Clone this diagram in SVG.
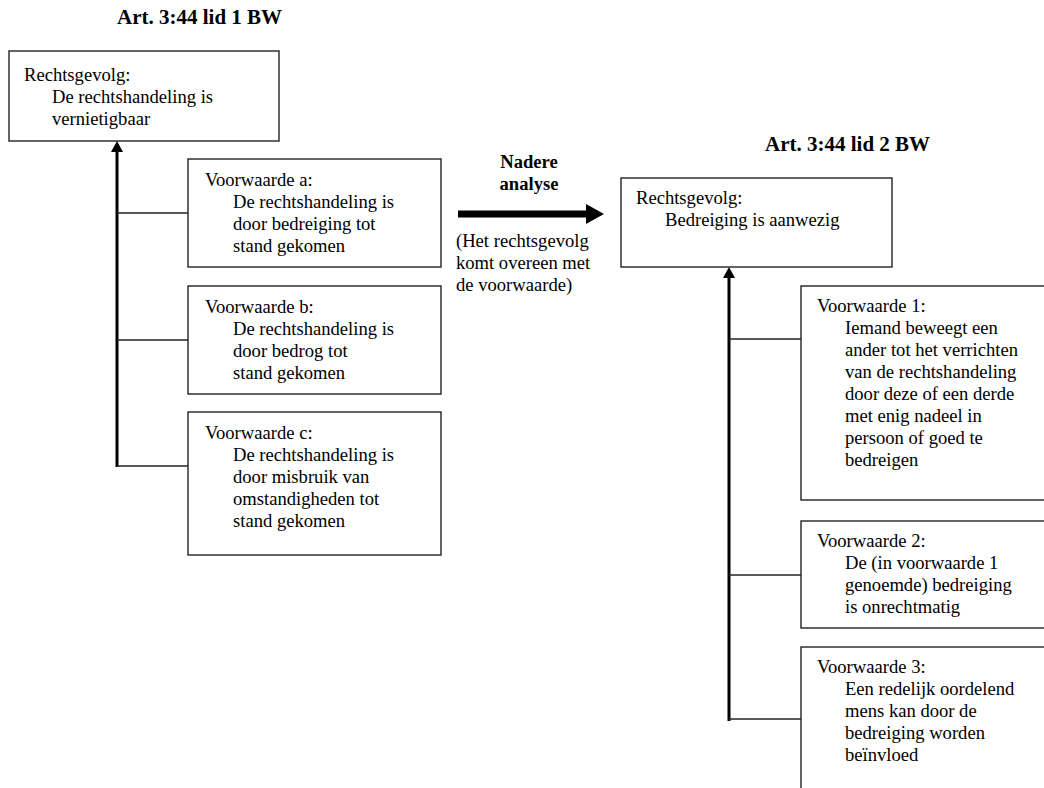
<svg xmlns="http://www.w3.org/2000/svg" width="1044" height="788" viewBox="0 0 1044 788">
<style>
  text { font-family: "Liberation Serif", "Times New Roman", serif; fill: #000; }
  .t { font-size: 18.6px; }
  .h { font-size: 21px; font-weight: bold; }
  .b { font-size: 18.6px; font-weight: bold; }
  .box { fill: #fff; stroke: #222; stroke-width: 1.4; }
  .con { stroke: #222; stroke-width: 1.5; fill: none; }
  .spine { stroke: #000; stroke-width: 3; fill: none; }
  .head { fill: #000; }
</style>
<rect width="1044" height="788" fill="#fff"/>

<text class="h" x="117" y="24">Art. 3:44 lid 1 BW</text>
<text class="h" x="765" y="151">Art. 3:44 lid 2 BW</text>

<g id="connectors">
  <line class="spine" x1="117" y1="467" x2="117" y2="151"/>
  <path class="head" d="M111,152 L117,141 L123,152 Z"/>
  <line class="con" x1="117" y1="213" x2="188" y2="213"/>
  <line class="con" x1="117" y1="340" x2="188" y2="340"/>
  <line class="con" x1="117" y1="466" x2="188" y2="466"/>
  <line class="spine" x1="729" y1="721" x2="729" y2="277"/>
  <path class="head" d="M723,278 L729,267 L735,278 Z"/>
  <line class="con" x1="729" y1="339" x2="801" y2="339"/>
  <line class="con" x1="729" y1="575" x2="801" y2="575"/>
  <line class="con" x1="729" y1="719" x2="801" y2="719"/>
  <path class="head" d="M458,210.5 L586,210.5 L586,204 L604,214 L586,224 L586,217.5 L458,217.5 Z"/>
</g>

<g id="mid-label">
  <text class="b" x="529" y="168" text-anchor="middle">Nadere</text>
  <text class="b" x="529" y="190" text-anchor="middle">analyse</text>
  <text class="t" x="456" y="247">(Het rechtsgevolg</text>
  <text class="t" x="456" y="269">komt overeen met</text>
  <text class="t" x="456" y="291">de voorwaarde)</text>
</g>

<g id="rechtsgevolg1">
  <rect class="box" x="9" y="51" width="270" height="90"/>
  <text class="t" x="24" y="81">Rechtsgevolg:</text>
  <text class="t" x="52" y="103">De rechtshandeling is</text>
  <text class="t" x="52" y="125">vernietigbaar</text>
</g>

<g id="voorwaarde-a">
  <rect class="box" x="188" y="159" width="253" height="108"/>
  <text class="t" x="205" y="186">Voorwaarde a:</text>
  <text class="t" x="233" y="208">De rechtshandeling is</text>
  <text class="t" x="233" y="230">door bedreiging tot</text>
  <text class="t" x="233" y="252">stand gekomen</text>
</g>

<g id="voorwaarde-b">
  <rect class="box" x="188" y="286" width="253" height="108"/>
  <text class="t" x="205" y="313">Voorwaarde b:</text>
  <text class="t" x="233" y="335">De rechtshandeling is</text>
  <text class="t" x="233" y="357">door bedrog tot</text>
  <text class="t" x="233" y="379">stand gekomen</text>
</g>

<g id="voorwaarde-c">
  <rect class="box" x="188" y="412" width="253" height="143"/>
  <text class="t" x="205" y="439">Voorwaarde c:</text>
  <text class="t" x="233" y="461">De rechtshandeling is</text>
  <text class="t" x="233" y="483">door misbruik van</text>
  <text class="t" x="233" y="505">omstandigheden tot</text>
  <text class="t" x="233" y="527">stand gekomen</text>
</g>

<g id="rechtsgevolg2">
  <rect class="box" x="621" y="178" width="271" height="89"/>
  <text class="t" x="636" y="204">Rechtsgevolg:</text>
  <text class="t" x="665" y="226">Bedreiging is aanwezig</text>
</g>

<g id="voorwaarde-1">
  <rect class="box" x="801" y="286" width="300" height="214"/>
  <text class="t" x="817" y="312">Voorwaarde 1:</text>
  <text class="t" x="845" y="334">Iemand beweegt een</text>
  <text class="t" x="845" y="356">ander tot het verrichten</text>
  <text class="t" x="845" y="378">van de rechtshandeling</text>
  <text class="t" x="845" y="400">door deze of een derde</text>
  <text class="t" x="845" y="422">met enig nadeel in</text>
  <text class="t" x="845" y="444">persoon of goed te</text>
  <text class="t" x="845" y="466">bedreigen</text>
</g>

<g id="voorwaarde-2">
  <rect class="box" x="801" y="521" width="300" height="107"/>
  <text class="t" x="817" y="547">Voorwaarde 2:</text>
  <text class="t" x="845" y="569">De (in voorwaarde 1</text>
  <text class="t" x="845" y="591">genoemde) bedreiging</text>
  <text class="t" x="845" y="613">is onrechtmatig</text>
</g>

<g id="voorwaarde-3">
  <rect class="box" x="801" y="647" width="300" height="200"/>
  <text class="t" x="817" y="673">Voorwaarde 3:</text>
  <text class="t" x="845" y="695">Een redelijk oordelend</text>
  <text class="t" x="845" y="717">mens kan door de</text>
  <text class="t" x="845" y="739">bedreiging worden</text>
  <text class="t" x="845" y="761">beïnvloed</text>
</g>
</svg>
